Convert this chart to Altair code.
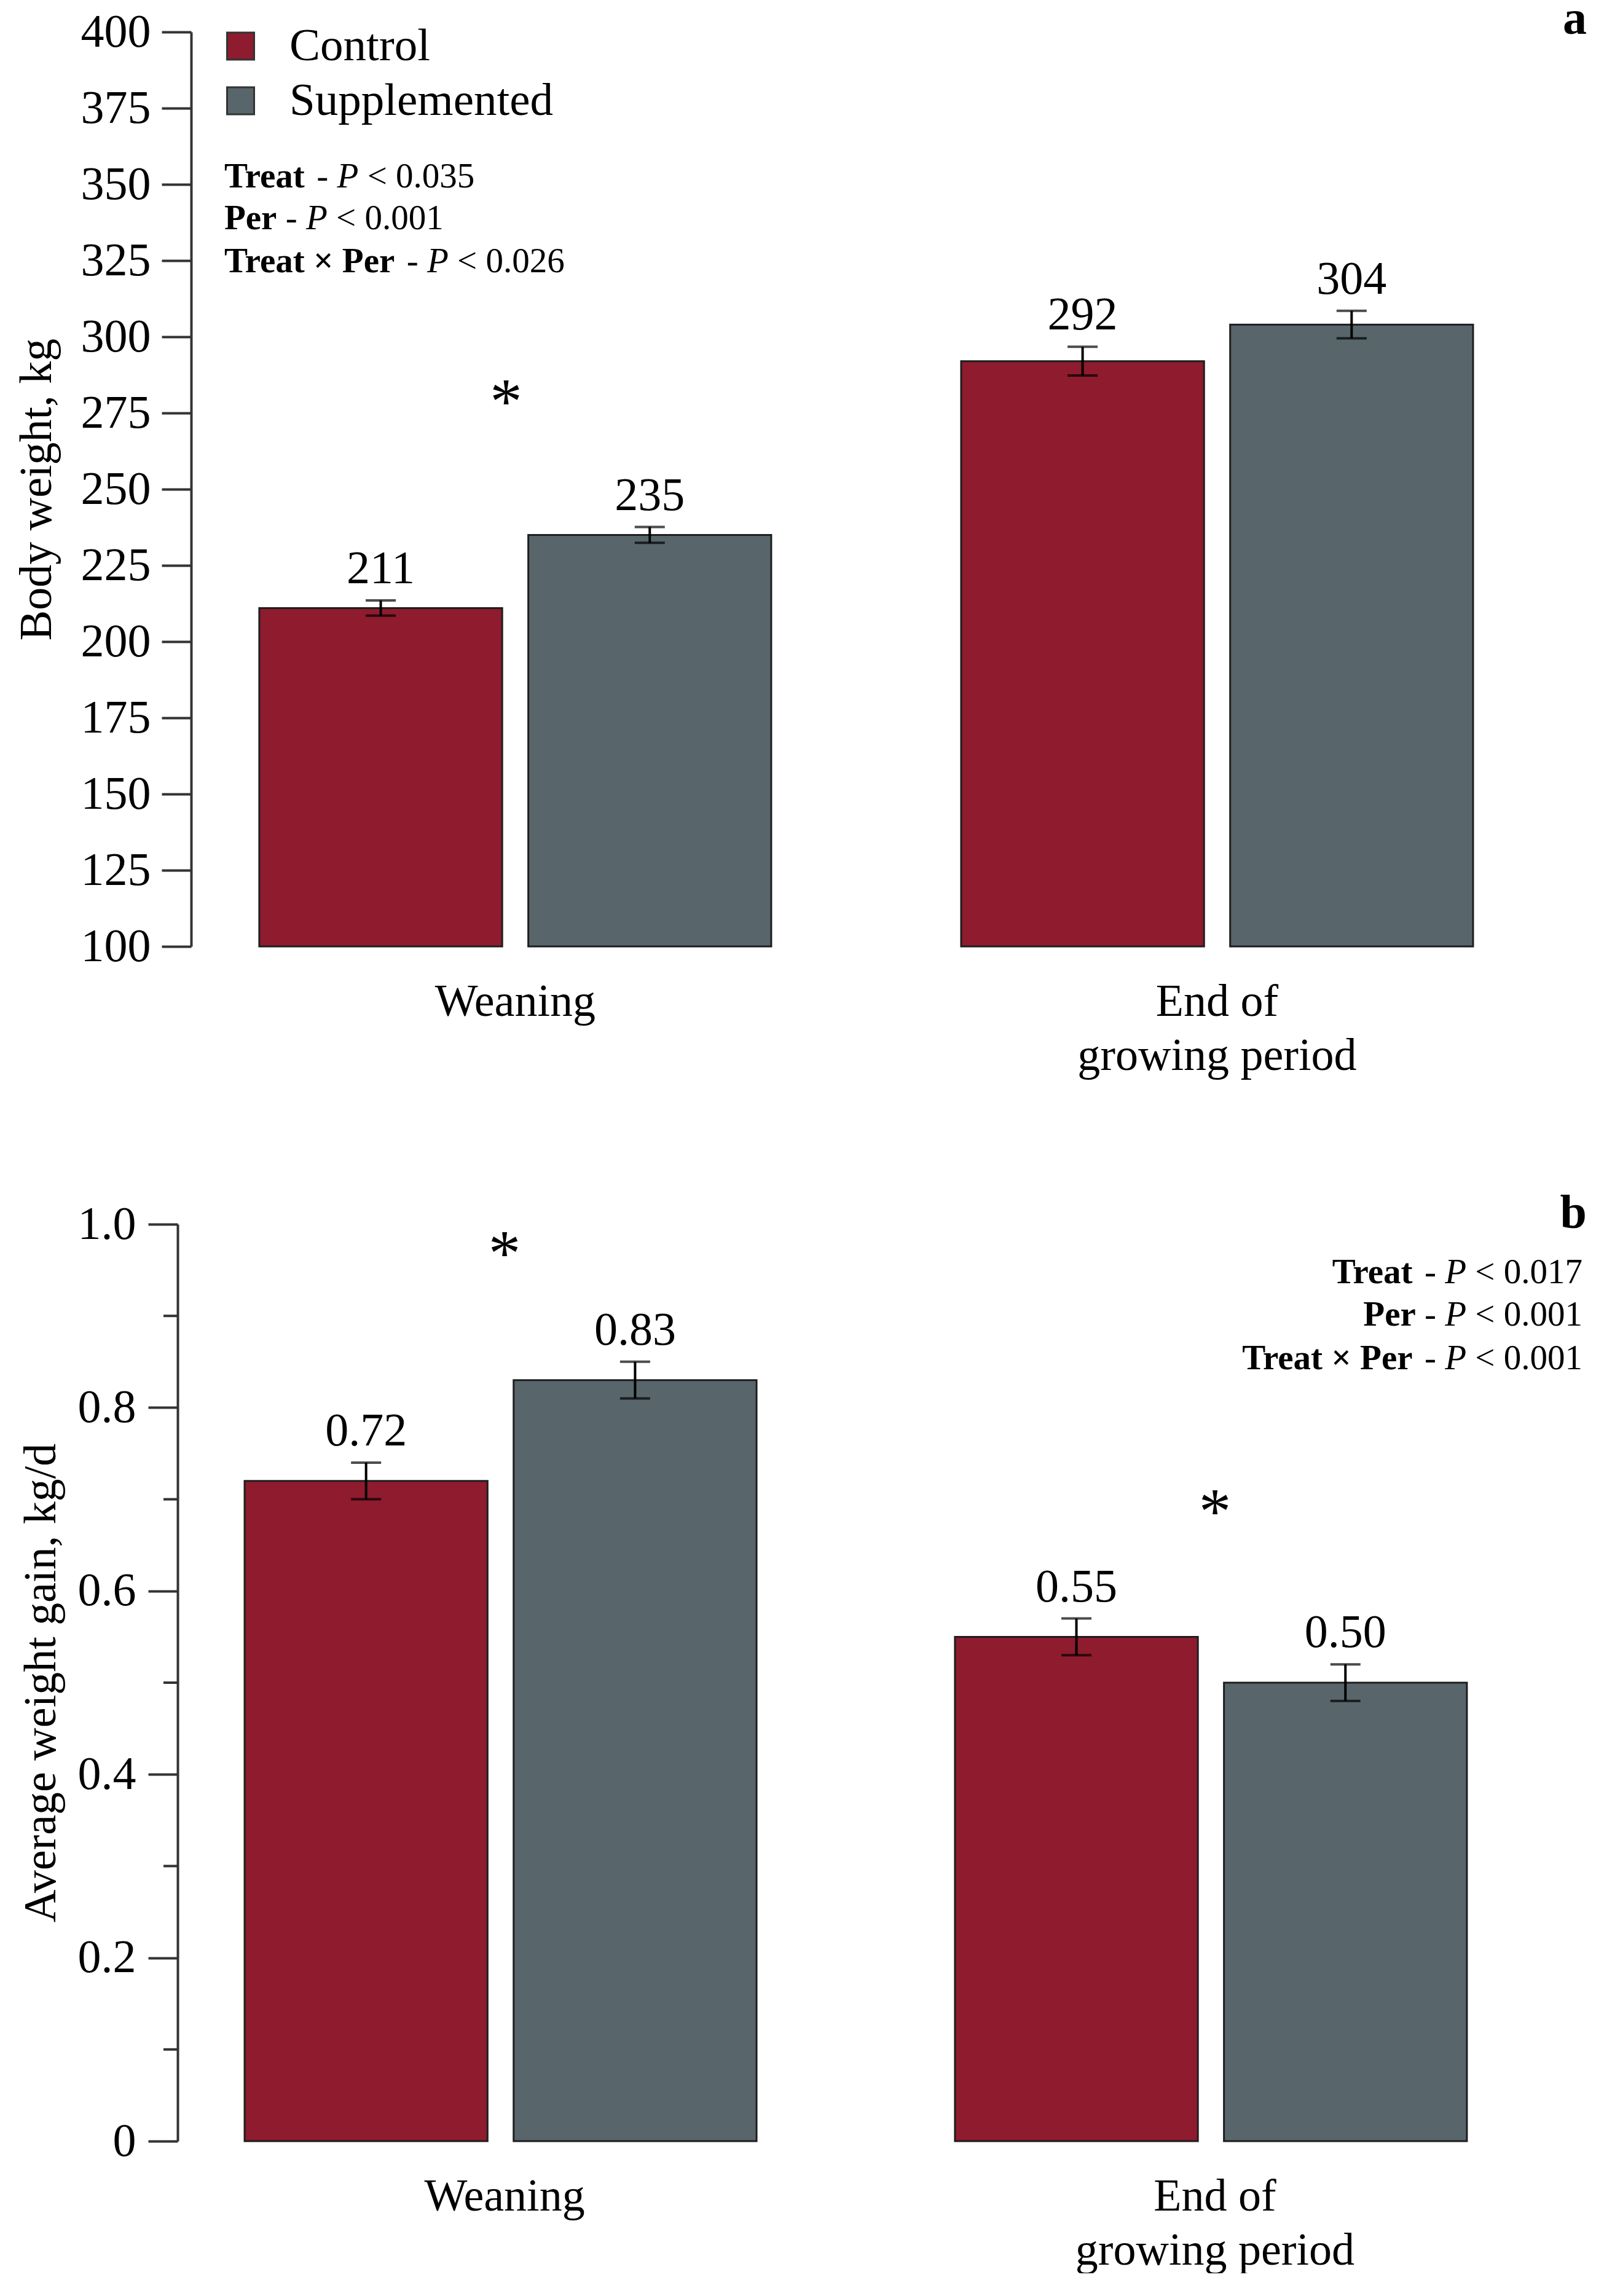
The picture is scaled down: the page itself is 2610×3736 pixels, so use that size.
import altair as alt
import pandas as pd

# ---------------- data ----------------
periods = ["Weaning", "End of growing period"]
treatments = ["Control", "Supplemented"]
colors = ["#8E1B2E", "#58666B"]

bw_mean = [211, 235, 292, 304]
bw_se = [2.5, 2.6, 4.7, 4.5]
adg_mean = [0.72, 0.83, 0.55, 0.50]
adg_se = [0.02, 0.02, 0.02, 0.02]

bw_star_period = ["Weaning"]
bw_star_y = [281.5]
adg_star_period = ["Weaning", "End of growing period"]
adg_star_y = [0.977, 0.696]

bw_stats = [("Treat", "0.035"), ("Per", "0.001"), ("Treat × Per", "0.026")]
adg_stats = [("Treat", "0.017"), ("Per", "0.001"), ("Treat × Per", "0.001")]

bw_ticks = list(range(100, 401, 25))
adg_ticks = [0.0, 0.2, 0.4, 0.6, 0.8, 1.0]
adg_minor = [0.1, 0.3, 0.5, 0.7, 0.9]

# ---------------- layout ----------------
FONT = "Liberation Serif"
W = 2293
HA, HB = 1488, 1492
TXT = "black"
AX = "#333333"

REG = {" ": .25, "-": .333, "<": .564, ".": .25, "0": .5, "1": .5, "2": .5,
       "3": .5, "5": .5, "6": .5, "7": .5}
BOLD = {"T": .667, "r": .444, "e": .444, "a": .5, "t": .333, "P": .611,
        " ": .25, "×": .570}


def wid(s, table):
    return sum(table[c] for c in s)


def stat_segments(label, pval):
    segs = []
    x = 0.0
    segs.append((label, "bold", "normal", x)); x += wid(label, BOLD) + .25
    segs.append(("-", "normal", "normal", x)); x += .333 + .25
    segs.append(("P", "normal", "italic", x)); x += .611 + .25
    segs.append(("<", "normal", "normal", x)); x += .564 + .25
    segs.append((pval, "normal", "normal", x)); x += wid(pval, REG)
    return segs, x


def text_layer(t, px, py, size, weight="normal", style="normal", align="left"):
    return alt.Chart(pd.DataFrame({"t": [t]})).mark_text(
        align=align, baseline="alphabetic", fontSize=size, fontWeight=weight,
        fontStyle=style, font=FONT, color=TXT
    ).encode(x=alt.value(px), y=alt.value(py), text="t:N")


def stats_layers(stats, x_anchor, baselines, size, right=False):
    out = []
    for (label, pval), py in zip(stats, baselines):
        segs, total = stat_segments(label, pval)
        x0 = x_anchor - total * size if right else x_anchor
        for t, wgt, sty, xem in segs:
            out.append(text_layer(t, x0 + xem * size, py, size, wgt, sty))
    return out


def bars_df(means, ses):
    rows = []
    for i, m in enumerate(means):
        rows.append({"period": periods[i // 2], "treatment": treatments[i % 2],
                     "mean": m, "lo": m - ses[i], "hi": m + ses[i]})
    return pd.DataFrame(rows)


color_scale = alt.Scale(domain=treatments, range=colors)
xaxis = alt.Axis(title=None, domain=False, ticks=False, tickSize=0,
                 labelAngle=0, labelFontSize=74, labelPadding=54,
                 labelLineHeight=88, labelFont=FONT, labelColor=TXT,
                 labelLimit=0,
                 labelExpr="datum.label == 'End of growing period' ? ['End of', 'growing period'] : datum.label")


def panel(means, ses, ymin, ymax, H, xpad, yaxis, fmt, star_p, star_y, star_dx,
          minor_vals, extra_layers):
    df = bars_df(means, ses)
    xscale = alt.Scale(paddingInner=xpad[0], paddingOuter=xpad[1], align=xpad[2])
    xoscale = alt.Scale(paddingInner=0.097, paddingOuter=0)
    yscale = alt.Scale(domain=[ymin, ymax], nice=False, zero=False)
    X = alt.X("period:N", sort=periods, scale=xscale, axis=xaxis)
    XO = alt.XOffset("treatment:N", sort=treatments, scale=xoscale)
    Y = lambda f: alt.Y(f, scale=yscale, axis=yaxis)
    col = alt.Color("treatment:N", scale=color_scale, legend=None)

    base = alt.Chart(df)
    bars = base.mark_bar(stroke="#1e1e1e", strokeWidth=3).encode(
        x=X, xOffset=XO, y=Y("mean:Q"), y2=alt.datum(ymin), color=col)
    rules = base.mark_rule(color="black", strokeWidth=4).encode(
        x=X, xOffset=XO, y=Y("lo:Q"), y2="hi:Q")
    cap_lo = base.mark_tick(color="black", thickness=4, size=49).encode(
        x=X, xOffset=XO, y=Y("lo:Q"))
    cap_hi = base.mark_tick(color="black", thickness=4, size=49).encode(
        x=X, xOffset=XO, y=Y("hi:Q"))
    vals = base.mark_text(fontSize=76, font=FONT, color=TXT, baseline="alphabetic",
                          dy=-28).encode(
        x=X, xOffset=XO, y=Y("hi:Q"), text=alt.Text("mean:Q", format=fmt))
    sdf = pd.DataFrame({"period": star_p, "sy": star_y})
    stars = alt.Chart(sdf).mark_text(text="*", fontSize=105, font=FONT, color=TXT,
                                     baseline="alphabetic", dy=49, dx=star_dx).encode(
        x=X, y=Y("sy:Q"))
    layers = [bars, rules, cap_lo, cap_hi, vals, stars]
    if minor_vals:
        layers.append(alt.Chart(pd.DataFrame({"v": minor_vals})).mark_rule(
            color=AX, strokeWidth=4).encode(
            y=Y("v:Q"), x=alt.value(-23), x2=alt.value(0)))
    layers += extra_layers
    return alt.layer(*layers).properties(width=W, height=H)


# ---- panel a ----
yaxis_a = alt.Axis(values=bw_ticks, title="Body weight, kg", offset=-22,
                   tickSize=48, labelFontSize=76, labelPadding=18,
                   titleFontSize=74, titlePadding=33, grid=False,
                   labelFont=FONT, titleFont=FONT, titleFontWeight="normal")
legend_layers = []
for i, name in enumerate(treatments):
    legend_layers.append(
        alt.Chart(pd.DataFrame({"treatment": [name]})).mark_square(
            size=1936, opacity=1, stroke="#333333", strokeWidth=3).encode(
            x=alt.value(102.5), y=alt.value(23 + 89 * i),
            color=alt.Color("treatment:N", scale=color_scale, legend=None)))
    legend_layers.append(text_layer(name, 182, 46 + 89 * i, 75))
extra_a = legend_layers + stats_layers(bw_stats, 76, [253, 321, 391], 57) + [
    text_layer("a", W, 3, 78, weight="bold", align="right")]
pa = panel(bw_mean, bw_se, 100, 400, HA, (0.2706, 0.1392, 0.418), yaxis_a, ".0f",
           bw_star_period, bw_star_y, -15, None, extra_a)

# ---- panel b ----
yaxis_b = alt.Axis(values=adg_ticks, title="Average weight gain, kg/d",
                   tickSize=48, labelFontSize=76, labelPadding=20,
                   titleFontSize=74, titlePadding=21, grid=False,
                   labelFont=FONT, titleFont=FONT, titleFontWeight="normal",
                   labelExpr="datum.value == 0 ? '0' : format(datum.value, '.1f')")
extra_b = stats_layers(adg_stats, 2286, [96, 165, 236], 57, right=True) + [
    text_layer("b", W, 6, 78, weight="bold", align="right")]
pb = panel(adg_mean, adg_se, 0, 1, HB, (0.268, 0.1259, 0.3746), yaxis_b, ".2f",
           adg_star_period, adg_star_y, 0, adg_minor, extra_b)

chart = alt.vconcat(pa, pb, spacing=452, bounds="flush").properties(
    padding={"left": 15, "top": -15, "right": 0, "bottom": 0},
    background="white"
).configure(font=FONT).configure_view(strokeWidth=0, stroke="transparent").configure_axis(
    domainColor=AX, tickColor=AX, domainWidth=4, tickWidth=4,
    labelColor=TXT, titleColor=TXT)

chart.save("out.html", embed_options={"renderer": "svg", "actions": False})
